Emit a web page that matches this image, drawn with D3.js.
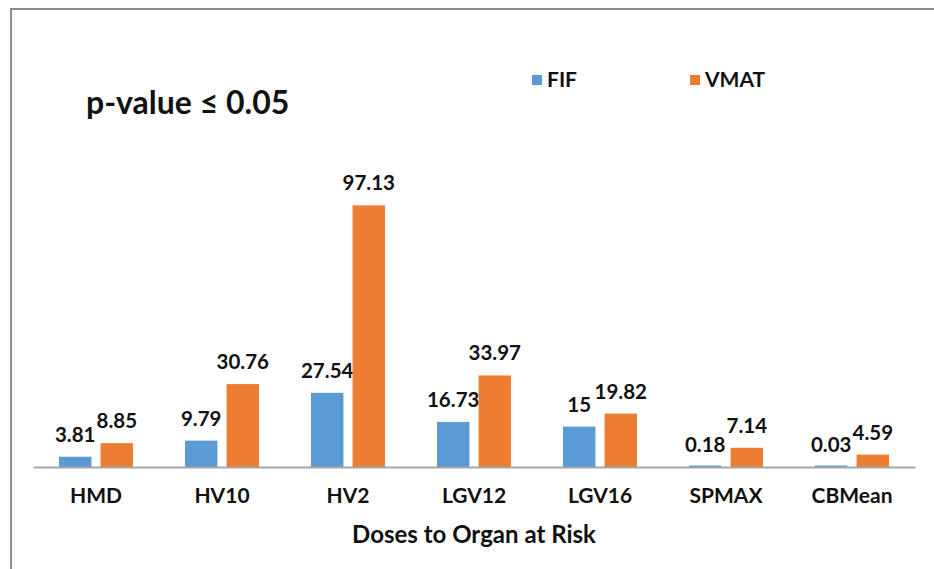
<!DOCTYPE html>
<html>
<head>
<meta charset="utf-8">
<script src="https://cdn.jsdelivr.net/npm/d3@7"></script>
<style>
  body { margin: 0; background: #fff; }
  text { font-family: Lato, "Open Sans", sans-serif; font-weight: bold; fill: #111; }
</style>
</head>
<body>
<script>
var WIDTH = 934;
var HEIGHT = 569;

var categories = ['HMD', 'HV10', 'HV2', 'LGV12', 'LGV16', 'SPMAX', 'CBMean'];
var seriesNames = ['FIF', 'VMAT'];
var fifValues = [3.81, 9.79, 27.54, 16.73, 15, 0.18, 0.03];
var vmatValues = [8.85, 30.76, 97.13, 33.97, 19.82, 7.14, 4.59];
var colors = ['#5b9bd5', '#ed7d31'];

var rows = categories.map(function (c, i) {
    return { cat: c, values: [fifValues[i], vmatValues[i]] };
});

var svg = d3.select('body').append('svg')
    .attr('width', WIDTH)
    .attr('height', HEIGHT);

// frame (only top and left edges are visible in the picture)
svg.append('path')
    .attr('d', 'M11,569 L11,9 L934,9')
    .attr('fill', 'none')
    .attr('stroke', '#8c8c8c')
    .attr('stroke-width', 2);

var x = d3.scaleBand()
    .domain(categories)
    .range([33, 915])
    .paddingInner(0)
    .paddingOuter(0);

var xInner = d3.scaleBand()
    .domain(seriesNames)
    .range([26, 100])
    .paddingInner(0.22);

var y = d3.scaleLinear()
    .domain([0, 100])
    .range([467, 197.6]);

var groups = svg.selectAll('g.cat')
    .data(rows)
    .enter()
    .append('g')
    .attr('class', 'cat')
    .attr('transform', function (d) { return 'translate(' + x(d.cat) + ',0)'; });

var bars = groups.selectAll('g.bar')
    .data(function (d) { return d.values.map(function (v, i) { return { name: seriesNames[i], value: v, i: i }; }); })
    .enter()
    .append('g')
    .attr('class', 'bar');

// tiny values still show as a thin sliver, like the original
var barH = function (d) { return Math.max(y(0) - y(d.value), 1.5); };

bars.append('rect')
    .attr('x', function (d) { return xInner(d.name); })
    .attr('y', function (d) { return y(0) - barH(d); })
    .attr('width', xInner.bandwidth())
    .attr('height', barH)
    .attr('fill', function (d) { return colors[d.i]; });

bars.append('text')
    .attr('x', function (d) { return xInner(d.name) + xInner.bandwidth() / 2; })
    .attr('y', function (d) { return y(d.value) - 15; })
    .attr('text-anchor', 'middle')
    .style('font-size', '20.5px')
    .text(function (d) { return d.value; });

// baseline axis
var xAxis = d3.axisBottom(x).tickSize(0).tickPadding(21);
var axisG = svg.append('g')
    .attr('transform', 'translate(0,' + y(0) + ')')
    .call(xAxis);
axisG.select('.domain').attr('stroke', '#a6a6a6').attr('stroke-width', 2);
axisG.selectAll('.tick text')
    .style('font-size', '21px')
    .style('font-family', 'Lato, sans-serif')
    .style('font-weight', 'bold')
    .attr('fill', '#111');

svg.append('text')
    .attr('x', (33 + 915) / 2)
    .attr('y', 543)
    .attr('text-anchor', 'middle')
    .style('font-size', '24px')
    .text('Doses to Organ at Risk');

svg.append('text')
    .attr('x', 86)
    .attr('y', 114)
    .style('font-size', '32px')
    .text('p-value \u2264 0.05');

// legend
var legendX = [532, 690];
var legend = svg.selectAll('g.legend')
    .data(seriesNames)
    .enter()
    .append('g')
    .attr('class', 'legend')
    .attr('transform', function (d, i) { return 'translate(' + legendX[i] + ',75)'; });

legend.append('rect')
    .attr('width', 10)
    .attr('height', 10)
    .attr('fill', function (d, i) { return colors[i]; });

legend.append('text')
    .attr('x', 15)
    .attr('y', 12)
    .style('font-size', '21px')
    .text(function (d) { return d; });
</script>
</body>
</html>
